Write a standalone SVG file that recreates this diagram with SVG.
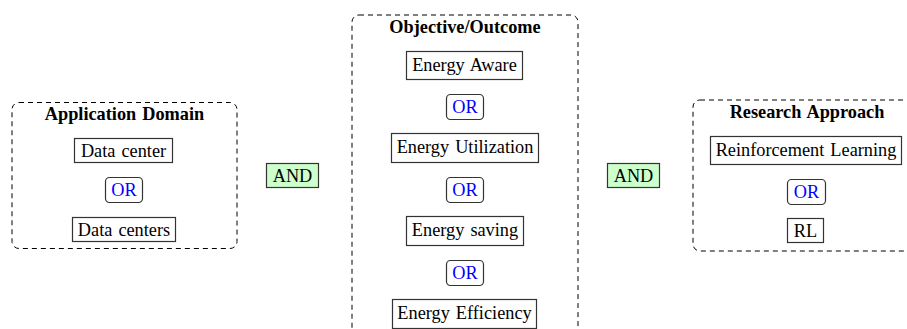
<svg xmlns="http://www.w3.org/2000/svg" width="907" height="329" viewBox="0 0 907 329">
<style>
  text { font-family: "Liberation Serif", "Times New Roman", serif; font-size: 18.3px; word-spacing: 1.5px; fill: #000; text-anchor: middle; }
  .title { font-weight: bold; }
  .or { fill: #0000ff; }
  .group { fill: none; stroke: #000; stroke-width: 1; stroke-dasharray: 5 4; }
  .box { fill: #fff; stroke: #333; stroke-width: 1.2; }
  .orbox { fill: #fff; stroke: #333; stroke-width: 1.2; }
  .and { fill: #ccffcc; stroke: #333; stroke-width: 1.2; }
</style>
<rect width="907" height="329" fill="#fff"/>

<g id="application-domain">
  <rect class="group" x="12" y="102.5" width="225" height="146" rx="7"/>
  <text class="title" x="124.5" y="120">Application Domain</text>
  <g id="data-center"><rect class="box" x="74.5" y="138.5" width="98" height="24"/><text x="123.5" y="157">Data center</text></g>
  <g id="or-1"><rect class="orbox" x="105.5" y="177.5" width="37" height="25" rx="4"/><text class="or" x="124" y="196">OR</text></g>
  <g id="data-centers"><rect class="box" x="72.5" y="217.5" width="103" height="24"/><text x="124" y="236">Data centers</text></g>
</g>

<g id="and-1"><rect class="and" x="266.5" y="163.5" width="52" height="24"/><text x="292.5" y="182">AND</text></g>

<g id="objective-outcome">
  <rect class="group" x="352" y="15" width="226" height="330" rx="7"/>
  <text class="title" x="465" y="33">Objective/Outcome</text>
  <g id="energy-aware"><rect class="box" x="406.5" y="51.5" width="116" height="28"/><text x="464.5" y="71">Energy Aware</text></g>
  <g id="or-2"><rect class="orbox" x="446.5" y="94.5" width="37" height="25" rx="4"/><text class="or" x="465" y="113">OR</text></g>
  <g id="energy-utilization"><rect class="box" x="391.5" y="133.5" width="147" height="29"/><text x="465" y="153">Energy Utilization</text></g>
  <g id="or-3"><rect class="orbox" x="446.5" y="177.5" width="37" height="25" rx="4"/><text class="or" x="465" y="196">OR</text></g>
  <g id="energy-saving"><rect class="box" x="406.5" y="216.5" width="117" height="29"/><text x="465" y="236">Energy saving</text></g>
  <g id="or-4"><rect class="orbox" x="446.5" y="260.5" width="37" height="25" rx="4"/><text class="or" x="465" y="279">OR</text></g>
  <g id="energy-efficiency"><rect class="box" x="392.5" y="299.5" width="144" height="29"/><text x="464.5" y="319">Energy Efficiency</text></g>
</g>

<g id="and-2"><rect class="and" x="607.5" y="163.5" width="52" height="24"/><text x="633.5" y="182">AND</text></g>

<g id="research-approach">
  <rect class="group" x="693" y="100" width="230" height="151" rx="7"/>
  <text class="title" x="807" y="118">Research Approach</text>
  <g id="reinforcement-learning"><rect class="box" x="710.5" y="136.5" width="191" height="28"/><text x="806" y="156">Reinforcement Learning</text></g>
  <g id="or-5"><rect class="orbox" x="787.5" y="179.5" width="38" height="25" rx="4"/><text class="or" x="806.5" y="198">OR</text></g>
  <g id="rl"><rect class="box" x="787.5" y="218.5" width="36" height="24"/><text x="805.5" y="237">RL</text></g>
</g>

<g id="connectors"></g>
</svg>
